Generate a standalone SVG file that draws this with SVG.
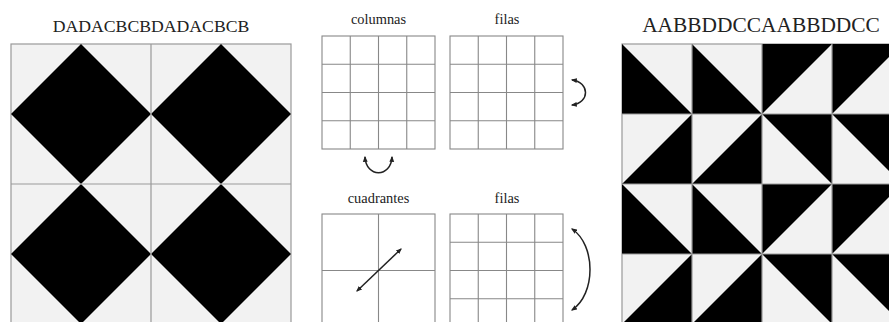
<svg xmlns="http://www.w3.org/2000/svg" width="889" height="322" viewBox="0 0 889 322">
<style>
.title{font-family:"Liberation Serif","Times New Roman",serif;fill:#222;text-anchor:middle}
.panel{fill:#f2f2f2;stroke:#999;stroke-width:1.2}
.div{stroke:#999;stroke-width:1.2;fill:none}
.blk{fill:#000}
.grid{fill:#fff;stroke:#888;stroke-width:1.1}
.gl{stroke:#888;stroke-width:1.1;fill:none}
.arr{stroke:#222;stroke-width:1.5;fill:none;marker-start:url(#ah);marker-end:url(#ah)}
</style>
<defs>
<marker id="ah" viewBox="0 0 10 10" refX="8" refY="5" markerWidth="4" markerHeight="4" orient="auto-start-reverse" markerUnits="strokeWidth">
<path d="M0,1 L10,5 L0,9 Z" fill="#222"/>
</marker>
</defs>
<rect width="889" height="322" fill="#fff"/>

<g id="left-pattern">
<text class="title" x="151" y="32" font-size="17.7">DADACBCBDADACBCB</text>
<rect class="panel" x="11" y="44" width="280" height="280"/>
<polygon class="blk" points="81,44 151,114 81,184 11,114"/>
<polygon class="blk" points="221,44 291,114 221,184 151,114"/>
<polygon class="blk" points="81,184 151,254 81,324 11,254"/>
<polygon class="blk" points="221,184 291,254 221,324 151,254"/>
<path class="div" d="M151,44 V324 M11,184 H291"/>
</g>

<g id="grid-columnas">
<text class="title" x="378.5" y="24" font-size="14.4">columnas</text>
<rect class="grid" x="322" y="36" width="113" height="113"/>
<path class="gl" d="M350.25,36 V149 M378.5,36 V149 M406.75,36 V149 M322,64.25 H435 M322,92.5 H435 M322,120.75 H435"/>
</g>

<g id="grid-filas-top">
<text class="title" x="507" y="24" font-size="14.4">filas</text>
<rect class="grid" x="450" y="36" width="113" height="113"/>
<path class="gl" d="M478.25,36 V149 M506.5,36 V149 M534.75,36 V149 M450,64.25 H563 M450,92.5 H563 M450,120.75 H563"/>
</g>

<g id="grid-cuadrantes">
<text class="title" x="378.5" y="203" font-size="14.4">cuadrantes</text>
<rect class="grid" x="322" y="214" width="113" height="113"/>
<path class="gl" d="M378.5,214 V327 M322,270.5 H435"/>
</g>

<g id="grid-filas-bottom">
<text class="title" x="507" y="203" font-size="14.4">filas</text>
<rect class="grid" x="450" y="214" width="113" height="113"/>
<path class="gl" d="M478.25,214 V327 M506.5,214 V327 M534.75,214 V327 M450,242.25 H563 M450,270.5 H563 M450,298.75 H563"/>
</g>

<g id="right-pattern">
<text class="title" x="761" y="32" font-size="21.4">AABBDDCCAABBDDCC</text>
<rect class="panel" x="622" y="44" width="280" height="280"/>
<polygon class="blk" points="622,44 622,114 692,114"/>
<polygon class="blk" points="692,44 692,114 762,114"/>
<polygon class="blk" points="762,44 832,44 762,114"/>
<polygon class="blk" points="832,44 902,44 832,114"/>
<polygon class="blk" points="692,114 692,184 622,184"/>
<polygon class="blk" points="762,114 762,184 692,184"/>
<polygon class="blk" points="762,114 832,114 832,184"/>
<polygon class="blk" points="832,114 902,114 902,184"/>
<polygon class="blk" points="622,184 622,254 692,254"/>
<polygon class="blk" points="692,184 692,254 762,254"/>
<polygon class="blk" points="762,184 832,184 762,254"/>
<polygon class="blk" points="832,184 902,184 832,254"/>
<polygon class="blk" points="692,254 692,324 622,324"/>
<polygon class="blk" points="762,254 762,324 692,324"/>
<polygon class="blk" points="762,254 832,254 832,324"/>
<polygon class="blk" points="832,254 902,254 902,324"/>
<path class="div" d="M692,44 V324 M762,44 V324 M832,44 V324 M622,114 H902 M622,184 H902 M622,254 H902"/>
</g>

<g id="connectors">
<path class="arr" d="M572,80 C590,82 590,103 572,105"/>
<path class="arr" d="M365,157 C366,178 391,178 392,157"/>
<path class="arr" d="M572,229 C596,245 596,294 572,310"/>
<path class="arr" d="M357,291 L401,249"/>
</g>
</svg>
